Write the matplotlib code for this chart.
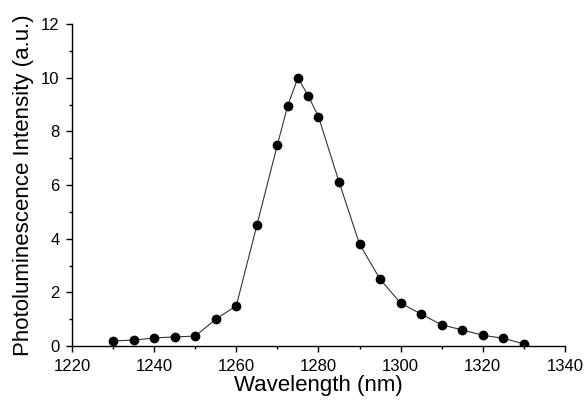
import matplotlib
matplotlib.use("Agg")
import matplotlib.pyplot as plt
from matplotlib.ticker import MultipleLocator

wavelength = [1230, 1235, 1240, 1245, 1250, 1255, 1260, 1265, 1270, 1272.5, 1275,
              1277.5, 1280, 1285, 1290, 1295, 1300, 1305, 1310, 1315, 1320, 1325, 1330]
intensity = [0.19, 0.22, 0.30, 0.34, 0.37, 1.0, 1.5, 4.5, 7.5, 8.95, 10.0,
             9.32, 8.55, 6.12, 3.8, 2.49, 1.6, 1.19, 0.79, 0.6, 0.4, 0.29, 0.08]

plt.rcParams['font.family'] = ['Liberation Sans', 'DejaVu Sans']

fig = plt.figure(figsize=(5.86, 4.03), dpi=100)
ax = fig.add_axes([0.1229, 0.1414, 0.8411, 0.799])
ax.plot(wavelength, intensity, '-', color='#333333', lw=0.8,
        marker='o', markersize=6, markerfacecolor='black', markeredgecolor='black')
ax.set_xlim(1220, 1340)
ax.set_ylim(0, 12)
ax.xaxis.set_major_locator(MultipleLocator(20))
ax.xaxis.set_minor_locator(MultipleLocator(10))
ax.yaxis.set_major_locator(MultipleLocator(2))
ax.yaxis.set_minor_locator(MultipleLocator(1))
ax.spines['top'].set_visible(False)
ax.spines['right'].set_visible(False)
for s in ['left', 'bottom']:
    ax.spines[s].set_linewidth(1.0)
ax.tick_params(which='major', direction='out', length=4, width=1, labelsize=12, pad=5)
ax.tick_params(which='minor', direction='out', length=2.5, width=1)
ax.set_xlabel('Wavelength (nm)', fontsize=16, labelpad=1)
ax.set_ylabel('Photoluminescence Intensity (a.u.)', fontsize=16, labelpad=5)
fig.savefig('out.png', dpi=100)
